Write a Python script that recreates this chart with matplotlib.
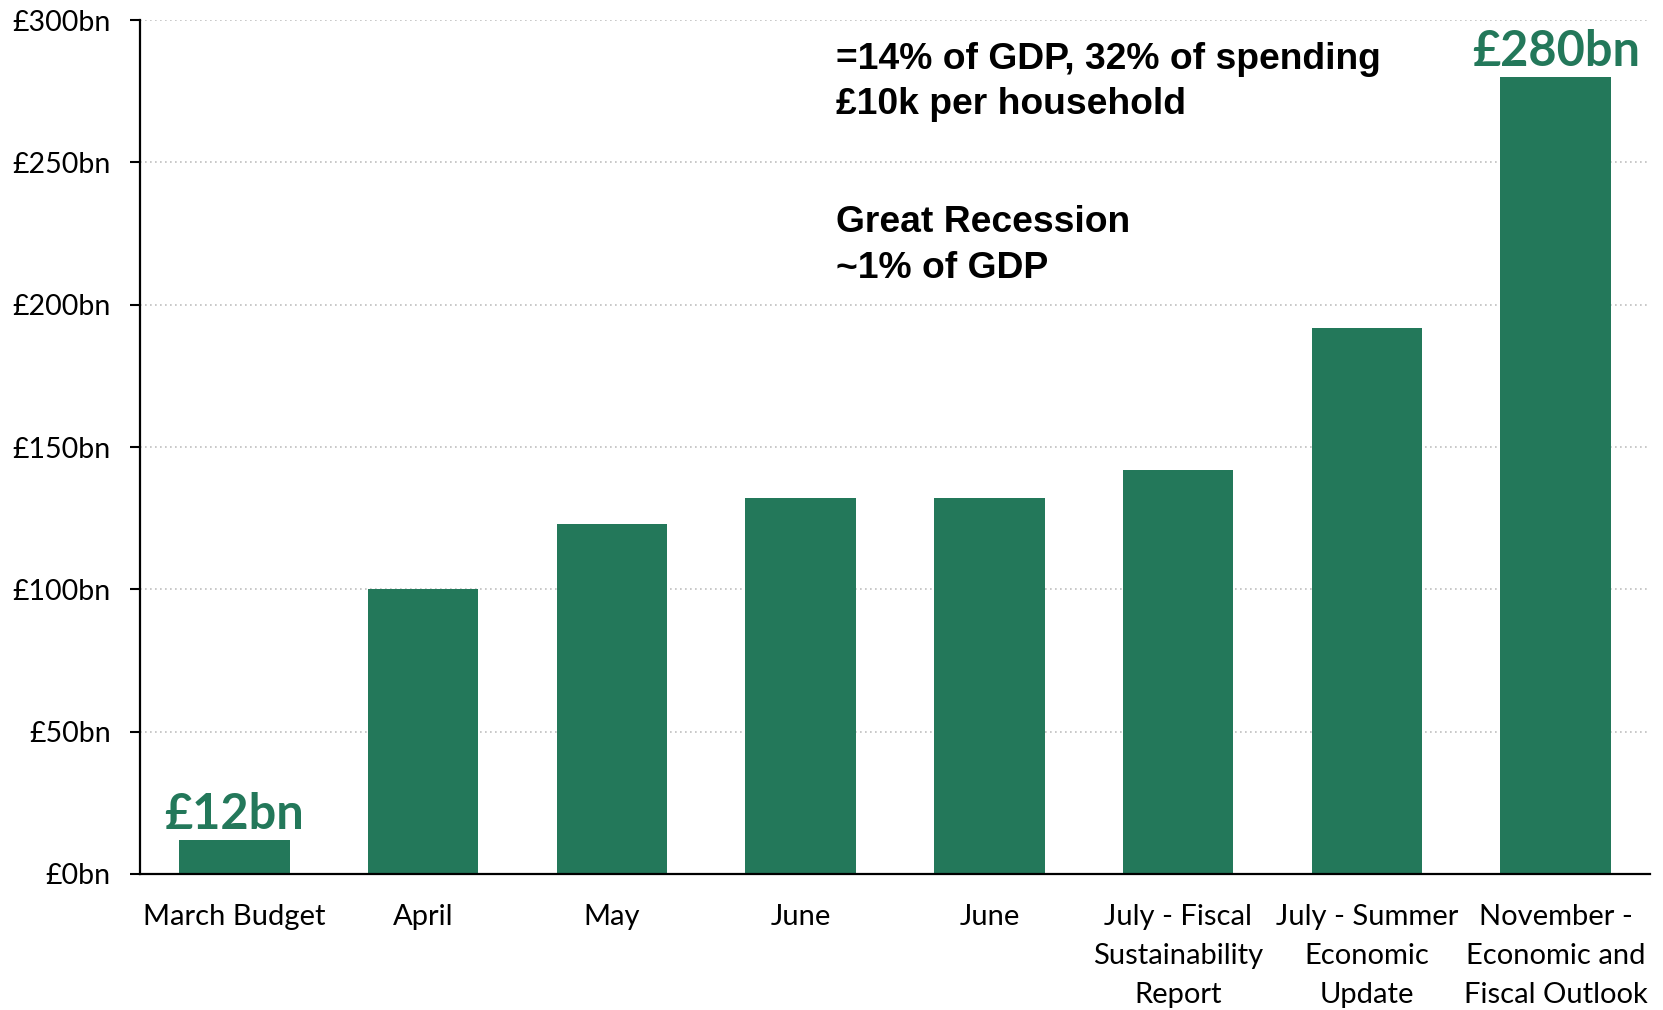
import matplotlib
matplotlib.use("Agg")
import matplotlib.pyplot as plt
from matplotlib.ticker import FixedLocator, FuncFormatter

# Successive estimates of the cost of fiscal support measures (£bn)
categories = [
    "March Budget",
    "April",
    "May",
    "June",
    "June",
    "July - Fiscal\nSustainability\nReport",
    "July - Summer\nEconomic\nUpdate",
    "November -\nEconomic and\nFiscal Outlook",
]
values = [12, 100, 123, 132, 132, 142, 192, 280]
y_ticks = [0, 50, 100, 150, 200, 250, 300]
labelled_bars = {0: "£12bn", 7: "£280bn"}
notes = [
    "=14% of GDP, 32% of spending\n£10k per household",
    "Great Recession\n~1% of GDP",
]

GREEN = "#23785A"
LABEL_FONT = ["Lato", "DejaVu Sans"]

fig = plt.figure(figsize=(16.63, 10.10), dpi=100)
ax = fig.add_axes([0.0842, 0.1347, 0.9080, 0.8453])

x = list(range(len(categories)))
ax.bar(x, values, width=0.585, color=GREEN, zorder=3)

ax.set_xlim(-0.5, len(categories) - 0.5)
ax.set_ylim(0, 300)

ax.yaxis.set_major_locator(FixedLocator(y_ticks))
ax.yaxis.set_major_formatter(FuncFormatter(lambda v, _: f"£{v:.0f}bn"))
ax.set_xticks(x)
ax.set_xticklabels(categories, fontsize=21, family=LABEL_FONT,
                   linespacing=1.62, va="top")

for lab in ax.get_yticklabels():
    lab.set_family(LABEL_FONT)
    lab.set_fontsize(20.5)

ax.tick_params(axis="y", length=7, width=1.5, pad=14, direction="out")
ax.tick_params(axis="x", length=0, pad=21.5)

ax.grid(axis="y", color="#BFBFBF", linestyle=(0, (1, 2)), linewidth=1.2, zorder=0)
for side in ("top", "right"):
    ax.spines[side].set_visible(False)
for side in ("left", "bottom"):
    ax.spines[side].set_linewidth(1.6)
    ax.spines[side].set_zorder(4)

# Value labels above the first and last bars
for i, txt in labelled_bars.items():
    ax.annotate(txt, xy=(x[i], values[i]), xytext=(0, 2),
                textcoords="offset points", ha="center", va="bottom",
                fontsize=35, fontweight="bold", color=GREEN,
                family=LABEL_FONT)

# Context notes
ax.text(0.4608, 0.975, notes[0], transform=ax.transAxes, ha="left", va="top",
        fontsize=26.8, fontweight="bold", family="Liberation Sans",
        linespacing=1.4, color="black")
ax.text(0.4608, 0.783, notes[1], transform=ax.transAxes, ha="left", va="top",
        fontsize=26.8, fontweight="bold", family="Liberation Sans",
        linespacing=1.4, color="black")

fig.savefig("out.png", dpi=100, facecolor="white")
